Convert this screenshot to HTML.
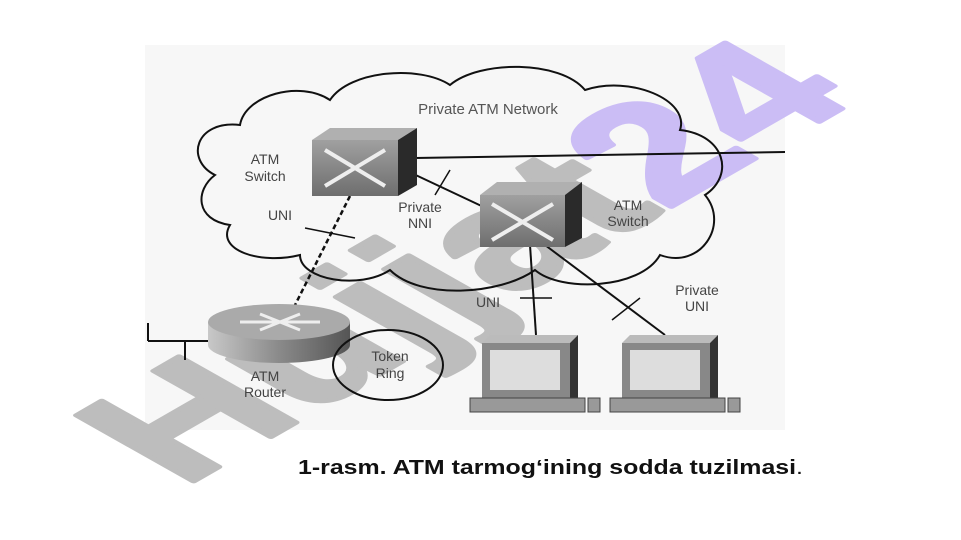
<!DOCTYPE html>
<html><head><meta charset="utf-8"><style>
html,body{margin:0;padding:0;background:#fff;width:961px;height:540px;overflow:hidden}
svg{display:block}
text{font-family:"Liberation Sans",sans-serif}
</style></head><body>
<svg width="961" height="540" viewBox="0 0 961 540" xmlns="http://www.w3.org/2000/svg">
<defs>
<linearGradient id="rg" x1="0" x2="1"><stop offset="0" stop-color="#c8c8c8"/><stop offset="0.5" stop-color="#8a8a8a"/><stop offset="1" stop-color="#555"/></linearGradient>
<linearGradient id="sg" x1="0" x2="0" y1="0" y2="1"><stop offset="0" stop-color="#a0a0a0"/><stop offset="1" stop-color="#6e6e6e"/></linearGradient>
</defs>
<rect x="145" y="45" width="640" height="385" fill="#f7f7f7"/>
<!-- watermark -->
<text transform="matrix(0.87,-0.5,0.85,0.48,182,488)" font-size="200" font-weight="bold" fill="#bdbdbd" stroke="#bdbdbd" stroke-width="6" stroke-linejoin="round" font-family="Liberation Sans, sans-serif">Hujjat<tspan fill="#cbbdf5" stroke="#cbbdf5">24</tspan></text>
<!-- cloud -->
<path d="M215,175 C185,160 195,120 240,125 C245,95 300,80 330,100 C350,70 420,65 450,85 C480,60 560,60 585,90 C630,75 690,100 680,130 C725,135 735,175 705,195 C730,225 700,270 660,255 C640,290 560,292 535,270 C500,295 420,300 390,270 C360,290 300,280 300,255 C260,265 215,250 230,225 C195,220 195,190 215,175 Z" fill="none" stroke="#111" stroke-width="2"/>
<text x="488" y="114" font-size="15" text-anchor="middle" fill="#555">Private ATM Network</text>
<!-- lines -->
<line x1="415" y1="158" x2="785" y2="152" stroke="#111" stroke-width="2"/>
<line x1="405" y1="170" x2="490" y2="210" stroke="#111" stroke-width="2"/>
<line x1="435" y1="195" x2="450" y2="170" stroke="#111" stroke-width="1.5"/>
<line x1="350" y1="196" x2="290" y2="315" stroke="#111" stroke-width="2.5" stroke-dasharray="5,3"/>
<line x1="305" y1="228" x2="355" y2="238" stroke="#111" stroke-width="1.5"/>
<line x1="530" y1="245" x2="536" y2="335" stroke="#111" stroke-width="2"/>
<line x1="520" y1="298" x2="552" y2="298" stroke="#111" stroke-width="1.5"/>
<line x1="545" y1="245" x2="665" y2="335" stroke="#111" stroke-width="2"/>
<line x1="612" y1="320" x2="640" y2="298" stroke="#111" stroke-width="1.5"/>
<line x1="148" y1="341" x2="210" y2="341" stroke="#111" stroke-width="2"/>
<line x1="148" y1="323" x2="148" y2="341" stroke="#111" stroke-width="2"/>
<line x1="185" y1="341" x2="185" y2="360" stroke="#111" stroke-width="2"/>
<!-- switch1 -->
<polygon points="312,140 330,128 417,128 398,140" fill="#b0b0b0"/>
<polygon points="398,140 417,128 417,185 398,196" fill="#2a2a2a"/>
<rect x="312" y="140" width="86" height="56" fill="url(#sg)"/>
<path d="M325,150 L385,186 M325,186 L385,150" stroke="#eee" stroke-width="4"/>
<!-- switch2 -->
<polygon points="480,195 497,182 582,182 565,195" fill="#b0b0b0"/>
<polygon points="565,195 582,182 582,238 565,247" fill="#2a2a2a"/>
<rect x="480" y="195" width="85" height="52" fill="url(#sg)"/>
<path d="M492,204 L553,240 M492,240 L553,204" stroke="#eee" stroke-width="4"/>
<text x="265" y="164" font-size="14" text-anchor="middle" fill="#444">ATM</text>
<text x="265" y="181" font-size="14" text-anchor="middle" fill="#444">Switch</text>
<text x="628" y="210" font-size="14" text-anchor="middle" fill="#444">ATM</text>
<text x="628" y="226" font-size="14" text-anchor="middle" fill="#444">Switch</text>
<text x="420" y="212" font-size="14" text-anchor="middle" fill="#444">Private</text>
<text x="420" y="228" font-size="14" text-anchor="middle" fill="#444">NNI</text>
<text x="280" y="220" font-size="14" text-anchor="middle" fill="#444">UNI</text>
<text x="488" y="307" font-size="14" text-anchor="middle" fill="#444">UNI</text>
<text x="697" y="295" font-size="14" text-anchor="middle" fill="#444">Private</text>
<text x="697" y="311" font-size="14" text-anchor="middle" fill="#444">UNI</text>
<!-- router -->
<path d="M208,322 L208,345 A71,18 0 0 0 350,345 L350,322 Z" fill="url(#rg)"/>
<ellipse cx="279" cy="322" rx="71" ry="18" fill="#aaa"/>
<path d="M240,322 L320,322 M260,314 L300,330 M260,330 L300,314" stroke="#eee" stroke-width="3"/>
<ellipse cx="388" cy="365" rx="55" ry="35" fill="none" stroke="#111" stroke-width="2"/>
<text x="390" y="361" font-size="14" text-anchor="middle" fill="#444">Token</text>
<text x="390" y="378" font-size="14" text-anchor="middle" fill="#444">Ring</text>
<text x="265" y="381" font-size="14" text-anchor="middle" fill="#444">ATM</text>
<text x="265" y="397" font-size="14" text-anchor="middle" fill="#444">Router</text>
<!-- PCs -->
<g>
<polygon points="482,343 490,335 578,335 570,343" fill="#bbb"/>
<polygon points="570,343 578,335 578,398 570,398" fill="#333"/>
<rect x="482" y="343" width="88" height="55" fill="#888"/>
<rect x="490" y="350" width="70" height="40" fill="#ddd"/>
<rect x="470" y="398" width="115" height="14" fill="#999" stroke="#444"/>
<rect x="588" y="398" width="12" height="14" fill="#999" stroke="#444"/>
</g>
<g transform="translate(140,0)">
<polygon points="482,343 490,335 578,335 570,343" fill="#bbb"/>
<polygon points="570,343 578,335 578,398 570,398" fill="#333"/>
<rect x="482" y="343" width="88" height="55" fill="#888"/>
<rect x="490" y="350" width="70" height="40" fill="#ddd"/>
<rect x="470" y="398" width="115" height="14" fill="#999" stroke="#444"/>
<rect x="588" y="398" width="12" height="14" fill="#999" stroke="#444"/>
</g>
<text x="298" y="474" font-size="20" font-weight="bold" fill="#111" font-family="Liberation Sans, sans-serif" textLength="505" lengthAdjust="spacingAndGlyphs">1-rasm. ATM tarmog‘ining sodda tuzilmasi<tspan font-weight="normal">.</tspan></text>
</svg>
</body></html>
